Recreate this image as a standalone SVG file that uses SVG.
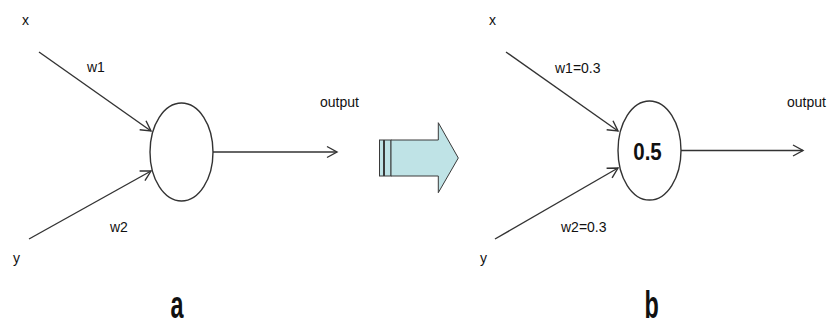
<svg xmlns="http://www.w3.org/2000/svg" width="831" height="326" viewBox="0 0 831 326">
  <style>
    .lbl { font-family: "Liberation Sans", Arial, sans-serif; font-size: 14px; fill: #111; }
    .edge { stroke: #333; stroke-width: 1.4; fill: none; marker-end: url(#open); }
    .neuron { fill: #fff; stroke: #333; stroke-width: 1.4; }
    .val { font-family: "Liberation Sans", Arial, sans-serif; font-weight: bold; font-size: 23px; fill: #111; }
    .cap { font-family: "Liberation Sans", Arial, sans-serif; font-weight: bold; font-size: 39px; fill: #111; }
    .blk { fill: #bfe3e6; stroke: #3a3a3a; stroke-width: 1; }
  </style>
  <defs>
    <marker id="open" markerUnits="userSpaceOnUse" markerWidth="14" markerHeight="14" viewBox="-12 -7 14 14" refX="0" refY="0" orient="auto">
      <path d="M-10,-5.5 L0,0 L-10,5.5" fill="none" stroke="#333" stroke-width="1.4"/>
    </marker>
  </defs>
  <rect width="831" height="326" fill="#fff"/>

  <!-- left network: untrained neuron -->
  <g id="edges-a">
    <line class="edge" x1="39" y1="52" x2="151" y2="131"/>
    <line class="edge" x1="29" y1="239" x2="151" y2="171"/>
    <line class="edge" x1="213" y1="152" x2="337" y2="152"/>
  </g>
  <g id="neuron-a">
    <ellipse class="neuron" cx="181.5" cy="152" rx="31.5" ry="49"/>
  </g>
  <g id="labels-a">
    <text class="lbl" x="22" y="25">x</text>
    <text class="lbl" x="87" y="72">w1</text>
    <text class="lbl" x="110" y="232">w2</text>
    <text class="lbl" x="13" y="263">y</text>
    <text class="lbl" x="320" y="107">output</text>
    <text class="cap" transform="translate(170.5,318) scale(0.6,1)">a</text>
  </g>

  <!-- transition arrow -->
  <g id="step-arrow">
    <rect class="blk" x="379.5" y="140" width="4" height="36"/>
    <rect class="blk" x="384.5" y="140" width="6.5" height="36"/>
    <path class="blk" d="M391,140 L438.3,140 L438.3,122.7 L458.3,158 L438.3,192.7 L438.3,176 L391,176 Z"/>
  </g>

  <!-- right network: weighted neuron -->
  <g id="edges-b">
    <line class="edge" x1="506" y1="52" x2="618" y2="131"/>
    <line class="edge" x1="495" y1="239" x2="618" y2="168"/>
    <line class="edge" x1="681" y1="150.5" x2="803" y2="150.5"/>
  </g>
  <g id="neuron-b">
    <ellipse class="neuron" cx="649.5" cy="150.5" rx="31.5" ry="49.5"/>
    <text class="val" x="647.5" y="159.5" text-anchor="middle" textLength="28.5" lengthAdjust="spacingAndGlyphs">0.5</text>
  </g>
  <g id="labels-b">
    <text class="lbl" x="489" y="25">x</text>
    <text class="lbl" x="555" y="73">w1=0.3</text>
    <text class="lbl" x="561" y="232">w2=0.3</text>
    <text class="lbl" x="480" y="263">y</text>
    <text class="lbl" x="787" y="107">output</text>
    <text class="cap" transform="translate(644.5,318) scale(0.6,1)">b</text>
  </g>
</svg>
